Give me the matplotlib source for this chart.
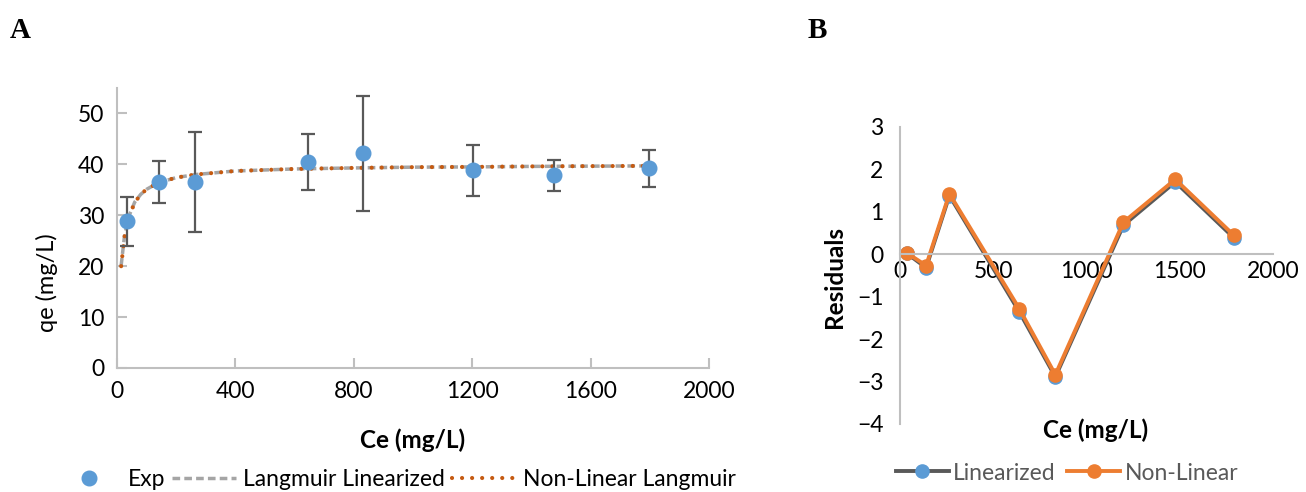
import numpy as np
import matplotlib.pyplot as plt

# experimental isotherm (panel A)
ce_exp = [34, 141, 265, 644, 831, 1202, 1478, 1798]
qe_exp = [28.8, 36.6, 36.6, 40.5, 42.3, 38.9, 37.95, 39.3]
err_up = [4.8, 4.0, 9.7, 5.5, 11.2, 5.0, 2.95, 3.5]
err_dn = [4.9, 4.1, 9.8, 5.6, 11.5, 5.2, 3.25, 3.7]

# fitted model curves
ce_fit = [14, 25, 40, 60, 80, 100, 140, 200, 265, 400, 600, 800, 1000, 1200, 1400, 1600, 1800]
q_lin = [20.1, 25.8, 29.8, 32.6, 34.1, 35.1, 36.4, 37.4, 38.0, 38.7, 39.1, 39.3, 39.45, 39.5, 39.6, 39.65, 39.7]
q_nonlin = [20.0, 25.7, 29.7, 32.5, 34.1, 35.1, 36.4, 37.4, 38.0, 38.7, 39.1, 39.3, 39.45, 39.5, 39.6, 39.65, 39.7]

# residuals (panel B)
ce_res = [36, 140, 265, 640, 833, 1198, 1476, 1791]
res_lin = [0.02, -0.32, 1.38, -1.36, -2.89, 0.68, 1.70, 0.38]
res_nonlin = [0.03, -0.27, 1.42, -1.29, -2.84, 0.75, 1.76, 0.44]

plt.rcParams['font.family'] = ['Lato', 'DejaVu Sans']
blue = '#5B9BD5'
orange = '#ED7D31'
axgray = '#BFBFBF'
fs = 16.5

fig = plt.figure(figsize=(13.06, 4.92), dpi=100)

# ---- panel A ----
ax = fig.add_axes([117/1306, 1-368/492, 592/1306, 280/492])
ax.plot(ce_fit, q_lin, color='#A5A5A5', lw=2.5, dashes=(2.2, 1.2), label='Langmuir Linearized', zorder=2)
ax.plot(ce_fit, q_nonlin, color='#C55A11', lw=3.0, dashes=(0.01, 2.4), dash_capstyle='round',
        label='Non-Linear Langmuir', zorder=3)
ax.errorbar(ce_exp, qe_exp, yerr=[err_dn, err_up], fmt='none', ecolor='#595959', elinewidth=1.6,
            capsize=5, capthick=1.6, zorder=4)
ax.plot(ce_exp, qe_exp, 'o', color=blue, ms=10.5, label='Exp', zorder=5)
ax.set_xlim(0, 2000)
ax.set_ylim(0, 55)
ax.set_xticks([0, 400, 800, 1200, 1600, 2000])
ax.set_yticks([0, 10, 20, 30, 40, 50])
for s in ['top', 'right']:
    ax.spines[s].set_visible(False)
for s in ['left', 'bottom']:
    ax.spines[s].set_color(axgray)
    ax.spines[s].set_linewidth(1.5)
ax.tick_params(direction='in', length=7, width=1.5, color=axgray, labelsize=fs, pad=9)
fig.text(413/1306, 1-440/492, 'Ce (mg/L)', fontsize=17.5, fontweight='bold', ha='center', va='center')
fig.text(47/1306, 1-283/492, 'qe (mg/L)', fontsize=17, rotation=90, ha='center', va='center')

h, l = ax.get_legend_handles_labels()
order = [2, 0, 1]
fig.legend([h[i] for i in order], [l[i] for i in order], loc='center', bbox_to_anchor=(396/1306, 1-480/492),
           ncol=3, frameon=False, fontsize=fs, handlelength=2.8, handletextpad=0.3,
           columnspacing=0.3, borderaxespad=0, borderpad=0)

# ---- panel B ----
bx = fig.add_axes([900/1306, 1-424/492, 373/1306, 297.3/492])
bx.plot(ce_res, res_lin, '-o', color='#595959', mfc=blue, mec=blue, ms=9.5, lw=2.8, label='Linearized')
bx.plot(ce_res, res_nonlin, '-o', color=orange, mfc=orange, mec=orange, ms=9.5, lw=2.8, label='Non-Linear')
bx.set_xlim(0, 2000)
bx.set_ylim(-4, 3)
bx.set_xticks([0, 500, 1000, 1500, 2000])
bx.set_yticks(range(-4, 4))
for s in ['top', 'right']:
    bx.spines[s].set_visible(False)
bx.spines['bottom'].set_position(('data', 0))
for s in ['left', 'bottom']:
    bx.spines[s].set_color(axgray)
    bx.spines[s].set_linewidth(1.5)
bx.tick_params(length=0, labelsize=fs)
bx.tick_params(axis='y', pad=12)
bx.tick_params(axis='x', pad=5)
fig.text(1096/1306, 1-430/492, 'Ce (mg/L)', fontsize=17.5, fontweight='bold', ha='center', va='center')
fig.text(835/1306, 1-277/492, 'Residuals', fontsize=17.5, fontweight='bold', rotation=90, ha='center', va='center')
leg = fig.legend(*bx.get_legend_handles_labels(), loc='center', bbox_to_anchor=(1067/1306, 1-473/492),
                 ncol=2, frameon=False, fontsize=fs, handlelength=2.3, handletextpad=0.2,
                 columnspacing=0.5, borderaxespad=0, borderpad=0)
for t in leg.get_texts():
    t.set_color('#595959')

fig.text(10/1306, 1-30/492, 'A', fontsize=21, fontweight='bold', family='Liberation Serif', va='center')
fig.text(808/1306, 1-30/492, 'B', fontsize=21, fontweight='bold', family='Liberation Serif', va='center')

fig.savefig('out.png', dpi=100)
